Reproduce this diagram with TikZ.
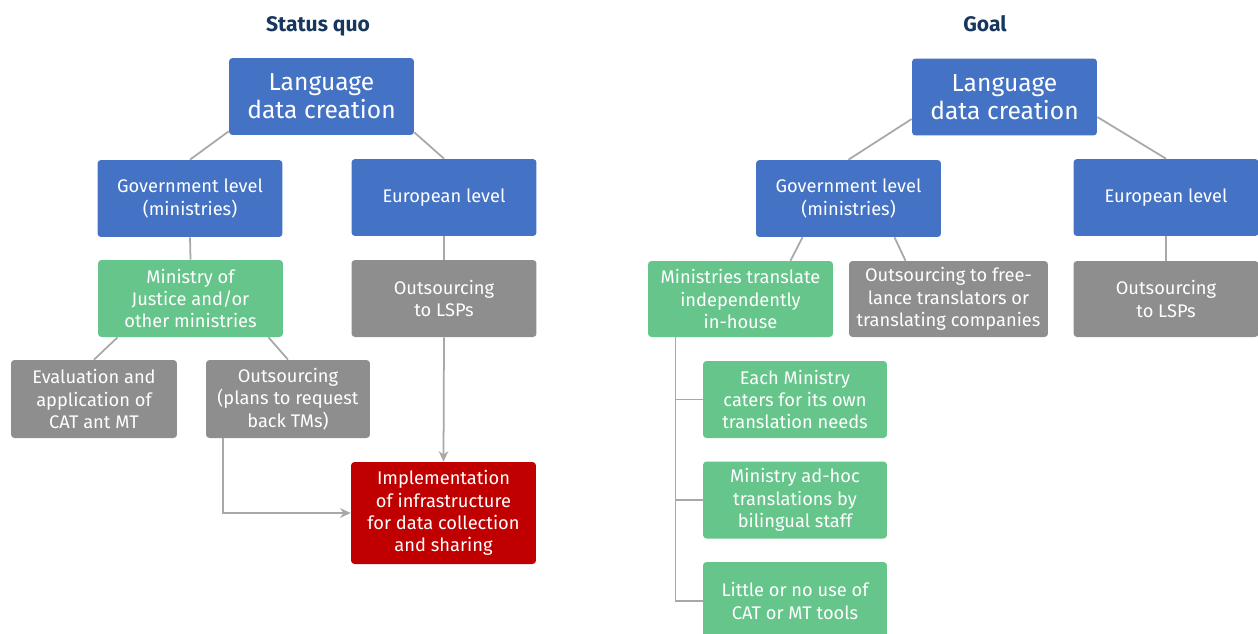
\documentclass[tikz,border=0pt]{standalone}
\usepackage{fontspec}
\setmainfont{Fira Sans}
\usetikzlibrary{arrows.meta,calc}
\definecolor{lvlblue}{HTML}{4472C4}
\definecolor{ownGreen}{HTML}{66C58A}
\definecolor{extGray}{HTML}{8E8E8E}
\definecolor{infraRed}{HTML}{C00000}
\definecolor{linkGray}{HTML}{A8A8A8}
\definecolor{headNavy}{HTML}{17375E}

\begin{document}
\begin{tikzpicture}[x=0.02cm, y=-0.02cm, >={Stealth[length=6pt,width=5.5pt]},
  box/.style={rounded corners=2pt, text=white, align=center, inner sep=0pt,
    minimum width=3.7cm, minimum height=1.54cm,
    font=\fontsize{10.4}{12.7}\selectfont},
  bluebox/.style={box, fill=lvlblue},
  greenbox/.style={box, fill=ownGreen},
  graybox/.style={box, fill=extGray},
  redbox/.style={box, fill=infraRed},
  topbox/.style={bluebox, font=\fontsize{14}{16}\selectfont},
  heading/.style={font=\fontsize{12}{14}\selectfont\bfseries, text=headNavy, anchor=base},
  link/.style={draw=linkGray, line width=1pt}]
  \useasboundingbox (0,0) rectangle (1258,633);

  % status quo
  \node[heading] (ttlA) at (318,31) {Status quo};
  \node[topbox] (ldcA) at (321.5,96.5) {Language\\data creation};
  \node[bluebox] (govA) at (190,198.5) {Government level\\(ministries)};
  \node[bluebox] (eurA) at (444,197.5) {European level};
  \node[greenbox] (minj) at (190.5,298.5) {Ministry of\\Justice and/or\\other ministries};
  \node[graybox] (lspA) at (444,298.5) {Outsourcing\\to LSPs};
  \node[graybox, minimum width=3.32cm, minimum height=1.56cm] (eval) at (94,399) {Evaluation and\\application of\\CAT ant MT};
  \node[graybox, minimum width=3.28cm, minimum height=1.56cm] (outp) at (288,399) {Outsourcing\\(plans to request\\back TMs)};
  \node[redbox, minimum height=2.04cm] (impl) at (443.5,513) {Implementation\\of infrastructure\\for data collection\\and sharing};

  \draw[link] ($(ldcA.south west)+(0,-4)$) -- (govA.north);
  \draw[link] ($(ldcA.south east)+(0,-3)$) -- (eurA.north);
  \draw[link] (govA.south) -- (minj.north);
  \draw[link] (eurA.south) -- (lspA.north);
  \draw[link] ($(minj.south)+(-73,0)$) -- (eval.north);
  \draw[link] ($(minj.south)+(78,0)$) -- (outp.north);
  \draw[link,->] (lspA.south) -- (impl.north);
  \draw[link,->] ($(outp.south)+(-65,0)$) |- (impl.west);

  % goal
  \node[heading] (ttlB) at (985,31) {Goal};
  \node[topbox] (ldcB) at (1004.5,97) {Language\\data creation};
  \node[bluebox] (govB) at (848.5,198.5) {Government level\\(ministries)};
  \node[bluebox] (eurB) at (1166,197.5) {European level};
  \node[greenbox, minimum height=1.52cm] (mint) at (740.5,299) {Ministries translate\\independently\\in-house};
  \node[graybox, minimum width=3.98cm, minimum height=1.52cm] (outf) at (948.5,299) {Outsourcing to free-\\lance translators or\\translating companies};
  \node[graybox, minimum height=1.52cm] (lspB) at (1166,299) {Outsourcing\\to LSPs};
  \node[greenbox, minimum width=3.68cm] (each) at (795,399.5) {Each Ministry\\caters for its own\\translation needs};
  \node[greenbox, minimum width=3.68cm] (adhoc) at (795,500) {Ministry ad-hoc\\translations by\\bilingual staff};
  \node[greenbox, minimum width=3.68cm, minimum height=1.56cm] (little) at (795,601) {Little or no use of\\CAT or MT tools};

  \draw[link] ($(ldcB.west)+(0,22)$) -- (govB.north);
  \draw[link] ($(ldcB.east)+(0,20)$) -- (eurB.north);
  \draw[link] ($(govB.south)+(-46,0)$) -- ($(mint.north)+(50,0)$);
  \draw[link] ($(govB.south)+(46,0)$) -- ($(outf.north)+(-43,0)$);
  \draw[link] (eurB.south) -- (lspB.north);
  \draw[link] ($(mint.south)+(-65,0)$) |- (each.west);
  \draw[link] ($(mint.south)+(-65,0)$) |- (adhoc.west);
  \draw[link] ($(mint.south)+(-65,0)$) |- (little.west);
\end{tikzpicture}
\end{document}
